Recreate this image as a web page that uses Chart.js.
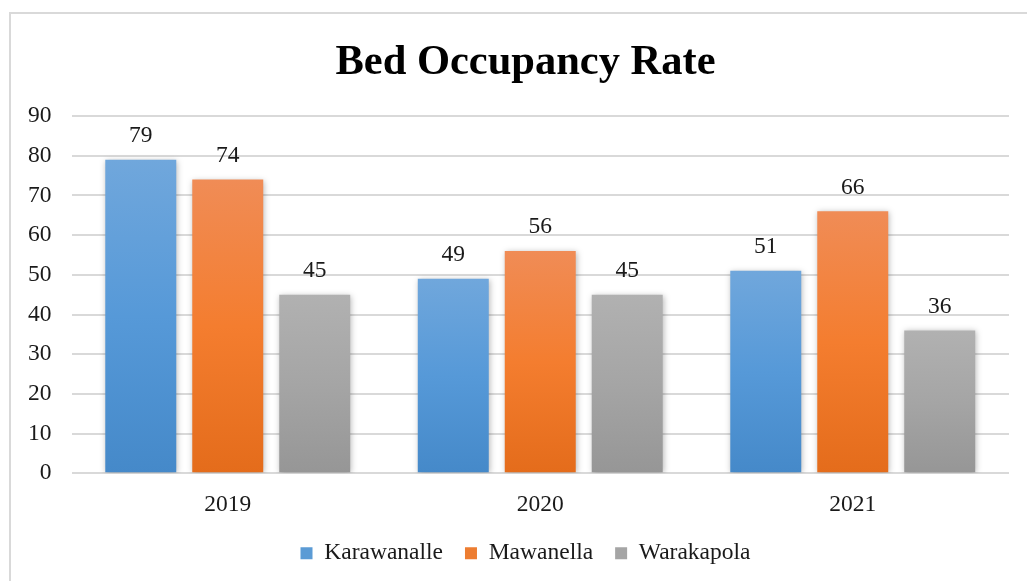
<!DOCTYPE html>
<html>
<head>
<meta charset="utf-8">
<script src="https://cdn.jsdelivr.net/npm/chart.js@4/dist/chart.umd.min.js"></script>
<style>
  html, body { margin: 0; padding: 0; background: #fff; overflow: hidden; }
  #wrap { position: relative; width: 1027px; height: 581px; }
  #frame { position: absolute; left: 9px; top: 12px; width: 1030px; height: 580px; border: 2px solid #d9d9d9; box-sizing: border-box; }
</style>
</head>
<body>
<div id="wrap">
  <div id="frame"></div>
  <canvas id="chart"></canvas>
</div>
<script>
const years = ['2019', '2020', '2021'];
const karawanalle = [79, 49, 51];
const mawanella = [74, 56, 66];
const warakapola = [45, 45, 36];
const yTicks = [0, 10, 20, 30, 40, 50, 60, 70, 80, 90];

// top, middle, bottom colours of each bar's gradient
const blueStops = ['#70a7dc', '#5699d8', '#4589c9'];
const orangeStops = ['#f08c56', '#f47d2f', '#e46c1b'];
const grayStops = ['#b1b1b1', '#a5a5a5', '#969696'];

function barGradient(stops) {
  return function (context) {
    const chart = context.chart;
    if (!chart.chartArea || context.parsed == null) return stops[1];
    const yScale = chart.scales.y;
    const top = yScale.getPixelForValue(context.parsed.y);
    const bottom = yScale.getPixelForValue(0);
    if (!isFinite(top) || !isFinite(bottom) || top === bottom) return stops[1];
    const g = chart.ctx.createLinearGradient(0, top, 0, bottom);
    g.addColorStop(0, stops[0]);
    g.addColorStop(0.5, stops[1]);
    g.addColorStop(1, stops[2]);
    return g;
  };
}

const barShadow = {
  id: 'barShadow',
  beforeDatasetDraw(chart) {
    const ctx = chart.ctx;
    ctx.save();
    ctx.shadowColor = 'rgba(0,0,0,0.28)';
    ctx.shadowBlur = 6;
    ctx.shadowOffsetX = 1;
    ctx.shadowOffsetY = 1;
  },
  afterDatasetDraw(chart) {
    chart.ctx.restore();
  }
};

// title and legend are centred on the whole frame, not just the plot
const centreBlocks = {
  id: 'centreBlocks',
  afterLayout(chart) {
    if (chart.titleBlock) chart.titleBlock.left += 34;
    if (chart.legend) chart.legend.left += 34;
  }
};

const serif = '"Liberation Serif", "Times New Roman", serif';

const valueLabels = {
  id: 'valueLabels',
  afterDatasetsDraw(chart) {
    const ctx = chart.ctx;
    ctx.save();
    ctx.font = '23.5px ' + serif;
    ctx.fillStyle = '#1a1a1a';
    ctx.textAlign = 'center';
    ctx.textBaseline = 'bottom';
    chart.data.datasets.forEach((ds, i) => {
      chart.getDatasetMeta(i).data.forEach((bar, j) => {
        ctx.fillText(String(ds.data[j]), bar.x, bar.y - 12);
      });
    });
    ctx.restore();
  }
};

new Chart(document.getElementById('chart'), {
  type: 'bar',
  data: {
    labels: years,
    datasets: [
      { label: 'Karawanalle', data: karawanalle, backgroundColor: barGradient(blueStops) },
      { label: 'Mawanella', data: mawanella, backgroundColor: barGradient(orangeStops) },
      { label: 'Warakapola', data: warakapola, backgroundColor: barGradient(grayStops) }
    ]
  },
  options: {
    responsive: true,
    maintainAspectRatio: false,
    animation: false,
    categoryPercentage: 0.835,
    barPercentage: 0.816,
    layout: { padding: { left: 8, right: 18, top: 38, bottom: 6 } },
    scales: {
      x: {
        grid: { display: false },
        border: { display: false },
        ticks: { color: '#1a1a1a', font: { family: serif, size: 23.5 }, padding: 9 },
        afterFit(scale) { scale.height -= 8; }
      },
      y: {
        min: 0,
        max: 90,
        afterBuildTicks(axis) { axis.ticks = yTicks.map(v => ({ value: v })); },
        grid: { color: '#d9d9d9', lineWidth: 2, drawTicks: false },
        border: { display: false },
        ticks: { color: '#1a1a1a', font: { family: serif, size: 23.5 }, padding: 20 }
      }
    },
    plugins: {
      title: {
        display: true,
        text: 'Bed Occupancy Rate',
        color: '#000',
        font: { family: serif, size: 42.5, weight: 'bold' },
        padding: { top: 0, bottom: 27 }
      },
      legend: {
        position: 'bottom',
        labels: {
          color: '#1a1a1a',
          font: { family: serif, size: 23.5 },
          boxWidth: 12,
          boxHeight: 12,
          padding: 22,
          generateLabels(chart) {
            const colors = ['#5b9bd5', '#ed7d31', '#a5a5a5'];
            return chart.data.datasets.map((ds, i) => ({
              text: ds.label,
              fillStyle: colors[i],
              strokeStyle: colors[i],
              lineWidth: 0,
              datasetIndex: i,
              fontColor: '#1a1a1a'
            }));
          }
        }
      },
      tooltip: { enabled: false }
    }
  },
  plugins: [barShadow, centreBlocks, valueLabels]
});
</script>
</body>
</html>
